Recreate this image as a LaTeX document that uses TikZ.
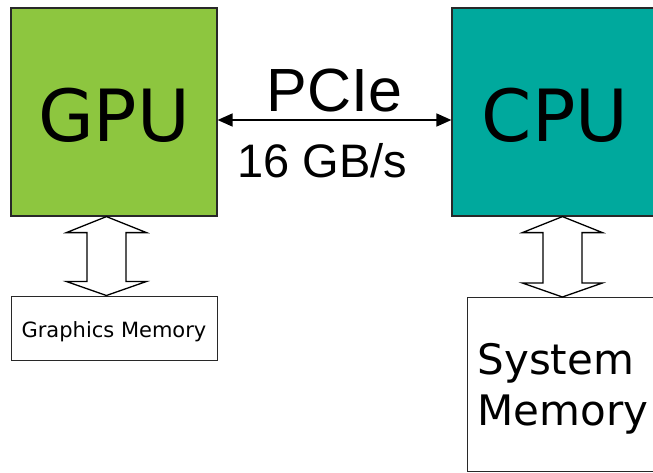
\documentclass[tikz,border=0pt]{standalone}
\usepackage{fontspec}
\setmainfont{DejaVu Sans}
\newfontfamily\busfont{Liberation Sans}
\usetikzlibrary{arrows.meta,calc}
\definecolor{gpugreen}{RGB}{141,198,63}
\definecolor{cputeal}{RGB}{0,169,157}
\definecolor{edge}{RGB}{40,40,40}

% hollow double-headed arrow between two named points (top, bottom)
\newcommand\fatlink[2]{%
  \draw[fatarrow] let \p1=(#1), \p2=(#2) in
    (\x1,\y1) -- (\x1+40pt,\y1-16pt) -- (\x1+19.5pt,\y1-16pt)
    -- (\x1+19.5pt,\y2+14pt) -- (\x1+40pt,\y2+14pt) -- (\x1,\y2)
    -- (\x1-40pt,\y2+14pt) -- (\x1-19.5pt,\y2+14pt)
    -- (\x1-19.5pt,\y1-16pt) -- (\x1-40pt,\y1-16pt) -- cycle;}

\begin{document}
\begin{tikzpicture}[x=1pt,y=-1pt,
  unit/.style={draw=edge, line width=1.2pt, minimum width=206pt,
    minimum height=208pt, inner sep=0pt, text height=59pt, text depth=0pt,
    font=\fontsize{72}{80}\selectfont},
  membox/.style={draw=edge, line width=1pt, fill=white, inner sep=0pt},
  fatarrow/.style={draw=black, line width=1.3pt, fill=white, line join=miter},
  bus/.style={{Triangle[length=15pt,width=13pt]}-{Triangle[length=15pt,width=13pt]},
    line width=1.5pt},
  buslabel/.style={inner sep=0pt, font=\busfont\fontsize{#1}{#1}\selectfont}]
\clip (0,0) rectangle (653,472);
\useasboundingbox (0,0) rectangle (653,472);

% processors
\node[unit, fill=gpugreen] (gpu) at (114,112) {GPU};
\node[unit, fill=cputeal]  (cpu) at (555,112) {CPU};

% memories
\node[membox, minimum width=206pt, minimum height=64pt, text height=18pt,
  text depth=0pt, font=\fontsize{21}{25}\selectfont] (gmem) at (114,328)
  {Graphics Memory};
\node[membox, anchor=north west, minimum height=174pt, text width=186pt,
  inner xsep=10pt, align=left, text depth=51pt,
  font=\fontsize{42}{51}\selectfont]
  (smem) at (467,297) {System\\Memory};

% memory links
\coordinate (g1) at ($(gpu.south west)+(96,0)$);
\coordinate (g2) at (g1 |- gmem.north);
\coordinate (c1) at ($(cpu.south west)+(111,0)$);
\coordinate (c2) at (c1 |- smem.north);
\fatlink{g1}{g2}
\fatlink{c1}{c2}

% PCIe bus
\draw[bus] ([yshift=-8pt]gpu.east) -- ([yshift=-8pt]cpu.west)
  node[midway, buslabel=61, anchor=south, yshift=7pt] {PCIe}
  node[midway, buslabel=47, anchor=north, yshift=-23pt, xshift=-12pt] {16 GB/s};
\end{tikzpicture}
\end{document}
